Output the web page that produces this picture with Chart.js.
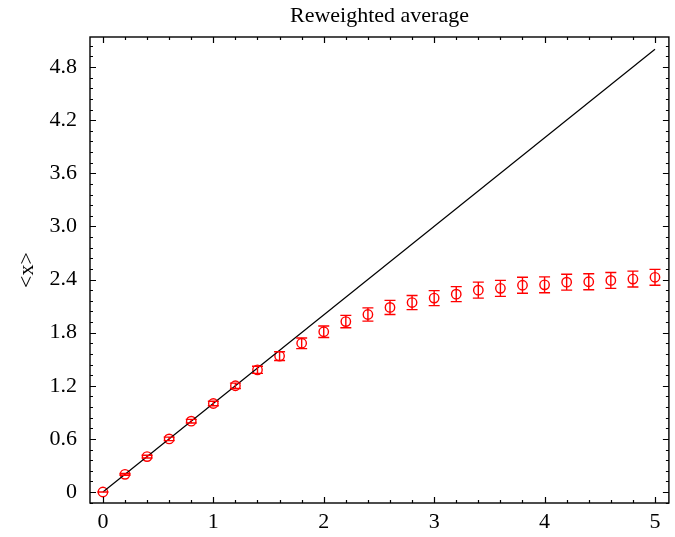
<!DOCTYPE html>
<html>
<head>
<meta charset="utf-8">
<script src="https://cdn.jsdelivr.net/npm/chart.js@4.4.1/dist/chart.umd.min.js"></script>
<style>
  html, body { margin: 0; padding: 0; background: #fff; }
  #wrap { width: 675px; height: 537px; }
</style>
</head>
<body>
<div id="wrap"><canvas id="chart"></canvas></div>
<script>
// reweighted average <x> vs x, with error bars
const xValues = [0, 0.2, 0.4, 0.6, 0.8, 1.0, 1.2, 1.4, 1.6, 1.8, 2.0, 2.2, 2.4, 2.6, 2.8, 3.0, 3.2, 3.4, 3.6, 3.8, 4.0, 4.2, 4.4, 4.6, 4.8, 5.0]
const avgValues = [0, 0.2, 0.4, 0.6, 0.8, 1.0, 1.2, 1.38, 1.535, 1.68, 1.81, 1.925, 2.005, 2.085, 2.14, 2.19, 2.235, 2.28, 2.3, 2.335, 2.34, 2.37, 2.375, 2.39, 2.405, 2.425]
const avgErrors = [0, 0.01, 0.015, 0.02, 0.02, 0.025, 0.03, 0.04, 0.05, 0.06, 0.065, 0.07, 0.075, 0.08, 0.08, 0.085, 0.085, 0.09, 0.09, 0.09, 0.09, 0.09, 0.09, 0.09, 0.09, 0.09]

// exact line <x> = x
const lineX = [0, 5]
const lineY = [0, 5]

const xTicks = [0, 1, 2, 3, 4, 5]
const yTicks = [0, 0.6, 1.2, 1.8, 2.4, 3.0, 3.6, 4.2, 4.8]

const TITLE = "Reweighted average"
const FONT = "'Liberation Serif', 'Times New Roman', serif"

// title centred over the plot frame, not the whole canvas
const plotTitle = {
  id: "plotTitle",
  afterDraw(chart) {
    const { ctx, chartArea: a } = chart
    ctx.save()
    ctx.fillStyle = "#000"
    ctx.font = `22px ${FONT}`
    ctx.textAlign = "center"
    ctx.textBaseline = "middle"
    ctx.fillText(TITLE, (a.left + a.right) / 2, 16)
    ctx.restore()
  }
}

const frameTicks = {
  id: "frameTicks",
  afterDraw(chart) {
    const { ctx, chartArea: a, scales: { x, y } } = chart
    ctx.save()
    ctx.strokeStyle = "#000"
    ctx.lineWidth = 1.2
    ctx.beginPath()

    const xMark = (v, len) => {
      const px = Math.round(x.getPixelForValue(v)) + 0.5
      ctx.moveTo(px, a.bottom); ctx.lineTo(px, a.bottom - len)
      ctx.moveTo(px, a.top); ctx.lineTo(px, a.top + len)
    }
    const yMark = (v, len) => {
      const py = Math.round(y.getPixelForValue(v)) + 0.5
      ctx.moveTo(a.left, py); ctx.lineTo(a.left + len, py)
      ctx.moveTo(a.right, py); ctx.lineTo(a.right - len, py)
    }

    for (let k = -1; k <= 26; k++) {
      const v = k * 0.2
      if (v < x.min || v > x.max) continue
      xMark(v, xTicks.some(t => Math.abs(t - v) < 1e-6) ? 6 : 3)
    }
    for (let k = -1; k <= 43; k++) {
      const v = k * 0.12
      if (v < y.min || v > y.max) continue
      yMark(v, yTicks.some(t => Math.abs(t - v) < 1e-6) ? 6 : 3)
    }
    ctx.stroke()

    ctx.lineWidth = 1.4
    ctx.strokeRect(a.left, a.top, a.right - a.left, a.bottom - a.top)
    ctx.restore()
  }
}

const errorBars = {
  id: "errorBars",
  afterDatasetsDraw(chart) {
    const { ctx, scales: { x, y } } = chart
    ctx.save()
    ctx.strokeStyle = "#ff0000"
    ctx.lineWidth = 1.4
    ctx.beginPath()
    xValues.forEach((v, i) => {
      const px = x.getPixelForValue(v)
      const top = y.getPixelForValue(avgValues[i] + avgErrors[i])
      const bot = y.getPixelForValue(avgValues[i] - avgErrors[i])
      ctx.moveTo(px, top); ctx.lineTo(px, bot)
      ctx.moveTo(px - 5.5, top); ctx.lineTo(px + 5.5, top)
      ctx.moveTo(px - 5.5, bot); ctx.lineTo(px + 5.5, bot)
    })
    ctx.stroke()
    ctx.restore()
  }
}

new Chart(document.getElementById("chart"), {
  type: "scatter",
  data: {
    datasets: [{
      label: "exact",
      data: lineX.map((v, i) => ({ x: v, y: lineY[i] })),
      showLine: true,
      borderColor: "#000",
      borderWidth: 1.2,
      pointRadius: 0
    }, {
      label: "reweighted",
      data: xValues.map((v, i) => ({ x: v, y: avgValues[i] })),
      showLine: false,
      pointStyle: "circle",
      pointRadius: 4.7,
      borderColor: "#ff0000",
      backgroundColor: "rgba(0,0,0,0)",
      borderWidth: 1.4
    }]
  },
  options: {
    animation: false,
    responsive: true,
    maintainAspectRatio: false,
    layout: { padding: { top: 37, right: 3 } },
    plugins: {
      legend: { display: false },
      tooltip: { enabled: false },
      title: { display: false }
    },
    scales: {
      x: {
        type: "linear",
        min: -0.117,
        max: 5.126,
        afterBuildTicks: s => { s.ticks = xTicks.map(v => ({ value: v })) },
        afterFit: s => { s.height = 34; s.paddingLeft = 0; s.paddingRight = 0 },
        ticks: {
          color: "#000",
          font: { family: FONT, size: 22 },
          padding: 6,
          maxRotation: 0,
          autoSkip: false,
          callback: v => String(v)
        },
        grid: { display: false, drawTicks: false },
        border: { display: false }
      },
      y: {
        type: "linear",
        min: -0.124,
        max: 5.139,
        afterBuildTicks: s => { s.ticks = yTicks.map(v => ({ value: v })) },
        afterFit: s => { s.width = 90; s.paddingTop = 0; s.paddingBottom = 0 },
        ticks: {
          color: "#000",
          font: { family: FONT, size: 22 },
          padding: 13,
          autoSkip: false,
          callback: v => v === 0 ? "0" : v.toFixed(1)
        },
        title: {
          display: true,
          text: "<x>",
          color: "#000",
          font: { family: FONT, size: 22 },
          padding: { top: 14, bottom: 0 }
        },
        grid: { display: false, drawTicks: false },
        border: { display: false }
      }
    }
  },
  plugins: [frameTicks, errorBars, plotTitle]
})
</script>
</body>
</html>
